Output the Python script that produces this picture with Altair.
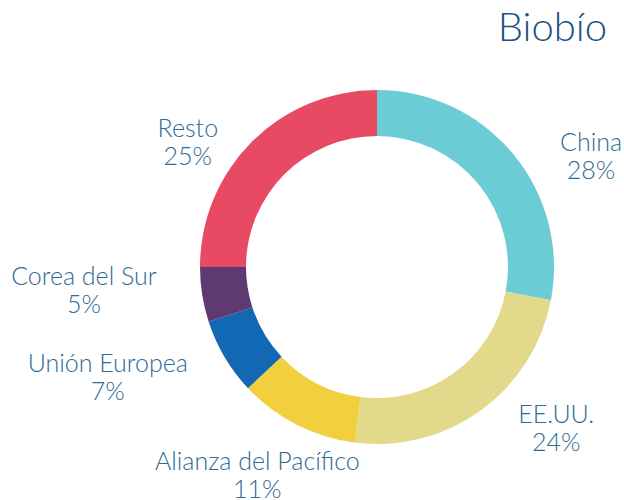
import altair as alt
import pandas as pd

# ---- data ----
categories = ["China", "EE.UU.", "Alianza del Pacífico", "Unión Europea", "Corea del Sur", "Resto"]
shares = [28, 24, 11, 7, 5, 25]
colors = ["#6CCCD5", "#E2DA8A", "#F2CF3C", "#1268B3", "#5E3A73", "#E84A63"]

# ---- styling: label nudges (dx, dy) from the slice mid-angle ----
label_offsets = {
    "China": (33, 26),
    "EE.UU.": (41, -42),
    "Alianza del Pacífico": (-13, -14),
    "Unión Europea": (-67, -23),
    "Corea del Sur": (-61, -27),
    "Resto": (-23, 28),
}

df = pd.DataFrame({"cat": categories, "share": shares, "order": list(range(len(categories)))})
df["label"] = df["cat"] + "\n" + df["share"].astype(str) + "%"

theta_scale = alt.Scale(domain=[0, 100])
base = alt.Chart(df)

arcs = base.mark_arc(outerRadius=177, innerRadius=131).encode(
    theta=alt.Theta("share:Q", stack=True, scale=theta_scale),
    order=alt.Order("order:Q"),
    color=alt.Color("cat:N", scale=alt.Scale(domain=categories, range=colors), legend=None),
)

lab_base = base.transform_window(
    cum="sum(share)", sort=[alt.SortField("order")], frame=[None, 0]
).transform_calculate(mid="datum.cum - datum.share / 2")

layers = []
for cat in categories:
    dx, dy = label_offsets[cat]
    layers.append(
        lab_base.transform_filter(alt.datum.cat == cat)
        .mark_text(
            radius=235, dx=dx, dy=dy, fontSize=25, lineHeight=28, font="Lato",
            fontWeight=300, color="#2D6A96", lineBreak="\n", align="center", baseline="middle",
        )
        .encode(theta=alt.Theta("mid:Q", scale=theta_scale, stack=None), text="label:N")
    )

chart = (
    alt.layer(arcs, *layers)
    .properties(
        width=494,
        height=466,
        padding={"left": 130, "top": 34, "right": 0, "bottom": 0},
        autosize="none",
        title=alt.TitleParams(
            "Biobío", anchor="end", frame="group", fontSize=40, font="Lato",
            fontWeight=300, color="#1D5283", offset=0, dx=-17, dy=47, baseline="alphabetic",
        ),
    )
    .configure_view(stroke=None)
)

chart.save("out.html", embed_options={"renderer": "svg", "actions": False})
